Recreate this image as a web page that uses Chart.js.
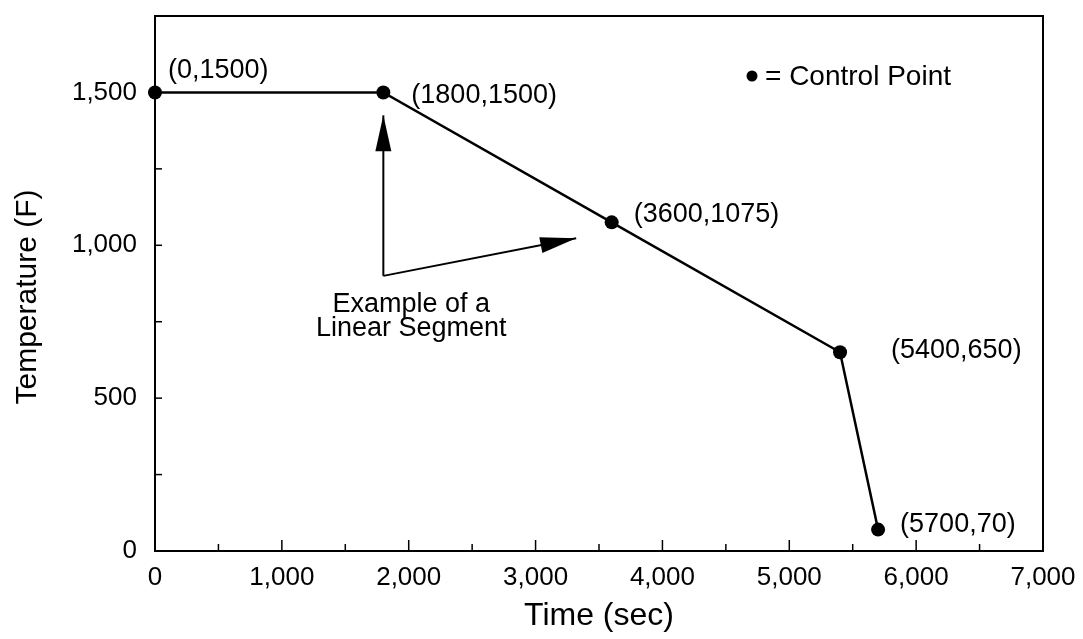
<!DOCTYPE html>
<html>
<head>
<meta charset="utf-8">
<script src="https://cdn.jsdelivr.net/npm/chart.js@4/dist/chart.umd.min.js"></script>
<style>
  html, body { margin: 0; padding: 0; background: #fff; }
  #container { width: 1083px; height: 639px; }
</style>
</head>
<body>
<div id="container"><canvas id="chart"></canvas></div>
<script>
var times = [0, 1800, 3600, 5400, 5700];
var temps = [1500, 1500, 1075, 650, 70];

var xTicks = [0, 1000, 2000, 3000, 4000, 5000, 6000, 7000];
var yTicks = [0, 500, 1000, 1500];

var xTitle = 'Time (sec)';
var yTitle = 'Temperature (F)';
var legendText = '= Control Point';
var noteLines = ['Example of a', 'Linear Segment'];
// arrow: corner, then the two heads
var arrowCorner = [1800, 900];
var arrowHeads = [[1800, 1425], [3320, 1023]];
var noteAt = [2020, 805];

var FONT = '"Liberation Sans", Arial, Helvetica, sans-serif';

// pixel offsets of each point label from its point
var labelOffsets = [[13, -22], [28, 3], [22, -8], [51, -2], [22, -5]];


var drawArrowHead = function(ctx, x0, y0, x1, y1) {
  var a = Math.atan2(y1 - y0, x1 - x0);
  var len = 36, half = 8;
  ctx.beginPath();
  ctx.moveTo(x1, y1);
  ctx.lineTo(x1 - len * Math.cos(a) - half * Math.sin(a),
             y1 - len * Math.sin(a) + half * Math.cos(a));
  ctx.lineTo(x1 - len * Math.cos(a) + half * Math.sin(a),
             y1 - len * Math.sin(a) - half * Math.cos(a));
  ctx.closePath();
  ctx.fill();
};


var decorations = {
  id: 'decorations',
  beforeDatasetsDraw: function(chart) {
    var ctx = chart.ctx;
    var area = chart.chartArea;
    var xs = chart.scales.x, ys = chart.scales.y;
    ctx.save();
    ctx.strokeStyle = '#000';
    ctx.lineWidth = 2;
    ctx.strokeRect(area.left, area.top, area.right - area.left, area.bottom - area.top);

    // inward ticks
    ctx.lineWidth = 1.5;
    for (var v = 500; v < 7000; v += 500) {
      var px = xs.getPixelForValue(v);
      var l = v % 1000 === 0 ? 11 : 7;
      ctx.beginPath();
      ctx.moveTo(px, area.bottom);
      ctx.lineTo(px, area.bottom - l);
      ctx.stroke();
    }
    for (var v = 250; v < 1750; v += 250) {
      var py = ys.getPixelForValue(v);
      ctx.beginPath();
      ctx.moveTo(area.left, py);
      ctx.lineTo(area.left + 7, py);
      ctx.stroke();
    }

    // axis titles
    ctx.fillStyle = '#000';
    ctx.textAlign = 'center';
    ctx.textBaseline = 'middle';
    ctx.font = '32px ' + FONT;
    ctx.fillText(xTitle, (area.left + area.right) / 2, 616);
    ctx.font = '30px ' + FONT;
    ctx.translate(28, 297);
    ctx.rotate(-Math.PI / 2);
    ctx.fillText(yTitle, 0, 0);
    ctx.restore();
  },
  afterDatasetsDraw: function(chart) {
    var ctx = chart.ctx;
    var xs = chart.scales.x, ys = chart.scales.y;
    ctx.save();
    ctx.fillStyle = '#000';
    ctx.strokeStyle = '#000';
    ctx.font = '27px ' + FONT;
    ctx.textBaseline = 'middle';
    ctx.textAlign = 'left';

    for (var i = 0; i < times.length; i++) {
      var px = xs.getPixelForValue(times[i]);
      var py = ys.getPixelForValue(temps[i]);
      ctx.fillText('(' + times[i] + ',' + temps[i] + ')',
                   px + labelOffsets[i][0], py + labelOffsets[i][1]);
    }

    // legend entry
    ctx.beginPath();
    ctx.arc(752, 76, 5.5, 0, Math.PI * 2);
    ctx.fill();
    ctx.font = '28px ' + FONT;
    ctx.fillText(legendText, 765, 77);

    // arrows
    var cx = xs.getPixelForValue(arrowCorner[0]);
    var cy = ys.getPixelForValue(arrowCorner[1]);
    ctx.lineWidth = 2;
    for (var j = 0; j < arrowHeads.length; j++) {
      var hx = xs.getPixelForValue(arrowHeads[j][0]);
      var hy = ys.getPixelForValue(arrowHeads[j][1]);
      ctx.beginPath();
      ctx.moveTo(cx, cy);
      ctx.lineTo(hx, hy);
      ctx.stroke();
      drawArrowHead(ctx, cx, cy, hx, hy);
    }

    ctx.font = '27px ' + FONT;
    ctx.textAlign = 'center';
    var nx = xs.getPixelForValue(noteAt[0]);
    var ny = ys.getPixelForValue(noteAt[1]);
    for (var k = 0; k < noteLines.length; k++) {
      ctx.fillText(noteLines[k], nx, ny + k * 24);
    }
    ctx.restore();
  }
};


var fmt = function(v) {
  return v.toLocaleString('en-US');
};

new Chart(document.getElementById('chart'), {
  type: 'line',
  data: {
    datasets: [{
      data: times.map(function(t, i) { return {x: t, y: temps[i]}; }),
      borderColor: '#000',
      borderWidth: 2.5,
      pointRadius: 7,
      pointBackgroundColor: '#000',
      pointBorderWidth: 0,
      tension: 0,
      clip: false,
    }],
  },
  options: {
    responsive: true,
    maintainAspectRatio: false,
    animation: false,
    devicePixelRatio: 1,
    layout: {padding: {top: 16, right: 40, left: 0, bottom: 0}},
    plugins: {legend: {display: false}, tooltip: {enabled: false}},
    scales: {
      x: {
        type: 'linear',
        min: 0,
        max: 7000,
        afterFit: function(s) {
          s.height = 88;
          s.paddingLeft = 0;
          s.paddingRight = 0;
        },
        afterBuildTicks: function(s) {
          s.ticks = xTicks.map(function(v) { return {value: v}; });
        },
        grid: {display: false},
        border: {display: false},
        ticks: {
          color: '#000',
          padding: 3,
          font: {family: FONT, size: 26},
          maxRotation: 0,
          callback: fmt,
        },
      },
      y: {
        type: 'linear',
        min: 0,
        max: 1750,
        afterFit: function(s) {
          s.width = 155;
          s.paddingTop = 0;
          s.paddingBottom = 0;
        },
        afterBuildTicks: function(s) {
          s.ticks = yTicks.map(function(v) { return {value: v}; });
        },
        grid: {display: false},
        border: {display: false},
        ticks: {
          color: '#000',
          padding: 10,
          font: {family: FONT, size: 26},
          callback: fmt,
        },
      },
    },
  },
  plugins: [decorations],
});
</script>
</body>
</html>
